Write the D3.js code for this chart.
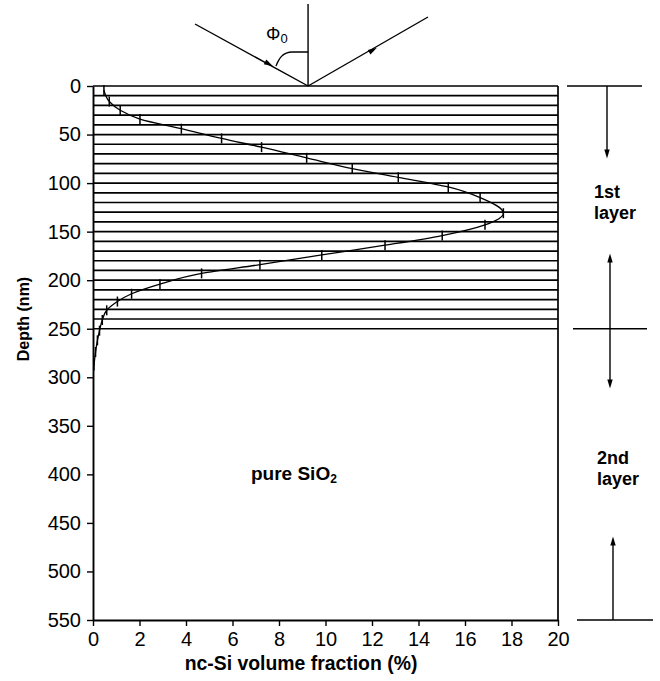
<!DOCTYPE html>
<html>
<head>
<meta charset="utf-8">
<script src="https://cdn.jsdelivr.net/npm/d3@7"></script>
<style>
  body { margin: 0; background: #fff; }
  text { font-family: Arial, "Liberation Sans", sans-serif; fill: #000; }
</style>
</head>
<body>
<svg id="chart" width="660" height="681"></svg>
<script>
// depth ticks (nm) and fraction ticks (%)
const depthTicks = [0, 50, 100, 150, 200, 250, 300, 350, 400, 450, 500, 550];
const fracTicks = [0, 2, 4, 6, 8, 10, 12, 14, 16, 18, 20];

// boundaries of the 10 nm sublayers of the 1st layer
const layerBounds = [0, 10, 20, 30, 40, 50, 60, 70, 80, 90, 100, 110, 120, 130,
    140, 150, 160, 170, 180, 190, 200, 210, 220, 230, 240, 250];

// nc-Si profile
const profileDepth = [4, 16, 25, 34, 44, 54, 63, 74, 85, 94, 104, 115, 131, 143,
    154, 164, 174, 184, 193, 204, 214, 222, 231, 241, 252, 262, 274, 288];
const profileFrac = [0.47, 0.7, 1.17, 2.02, 3.8, 5.53, 7.25, 9.19, 11.15, 13.13, 15.28, 16.65, 17.65, 16.86,
    15.02, 12.56, 9.84, 7.18, 4.67, 2.88, 1.66, 1.05, 0.59, 0.4, 0.28, 0.19, 0.11, 0.04];

const layerNames = [["1st", "layer"], ["2nd", "layer"]];

const svg = d3.select("#chart");
const x = d3.scaleLinear().domain([0, 20]).range([93, 558]);
const y = d3.scaleLinear().domain([0, 550]).range([86, 620]);

// sublayer lines
svg.append("g")
    .attr("class", "layers")
    .selectAll("line")
    .data(layerBounds)
    .join("line")
    .attr("x1", x(0))
    .attr("x2", x(20))
    .attr("y1", d => y(d))
    .attr("y2", d => y(d))
    .attr("stroke", "#000")
    .attr("stroke-width", 1.7);

// right frame line
svg.append("line")
    .attr("x1", x(20)).attr("x2", x(20))
    .attr("y1", y(0)).attr("y2", y(550))
    .attr("stroke", "#000")
    .attr("stroke-width", 1.7);

// axes
const yAxis = svg.append("g")
    .attr("transform", `translate(${x(0)},0)`)
    .call(d3.axisLeft(y).tickValues(depthTicks).tickSize(6).tickPadding(6).tickSizeOuter(0));
const xAxis = svg.append("g")
    .attr("transform", `translate(0,${y(550)})`)
    .call(d3.axisBottom(x).tickValues(fracTicks).tickSize(6).tickPadding(6).tickSizeOuter(0));

[yAxis, xAxis].forEach(a => {
    a.select(".domain").attr("stroke-width", 1.9);
    a.selectAll(".tick line").attr("stroke-width", 1.4);
    a.selectAll("text")
        .attr("font-family", "Arial, 'Liberation Sans', sans-serif")
        .attr("font-size", 20)
        .attr("fill", "#000");
});

// profile curve
const pts = profileDepth.map((d, i) => ({d: d, v: profileFrac[i]}));
const line = d3.line()
    .x(d => x(d.v))
    .y(d => y(d.d))
    .curve(d3.curveMonotoneY);

svg.append("path")
    .datum(pts)
    .attr("d", line)
    .attr("fill", "none")
    .attr("stroke", "#000")
    .attr("stroke-width", 1.3);

svg.append("g")
    .attr("class", "marks")
    .selectAll("line")
    .data(pts)
    .join("line")
    .attr("x1", d => x(d.v))
    .attr("x2", d => x(d.v))
    .attr("y1", d => y(d.d) - 5)
    .attr("y2", d => y(d.d) + 5)
    .attr("stroke", "#000")
    .attr("stroke-width", 1.5);

// small filled triangle pointing along a direction
function arrowHead(g, px, py, angle, size) {
    g.append("path")
        .attr("d", `M${size},0 L${-size},${-size * 0.6} L${-size},${size * 0.6} Z`)
        .attr("transform", `translate(${px},${py}) rotate(${angle})`)
        .attr("fill", "#000");
}

// incidence sketch
const hit = [x(9.25), y(0)];
const diag = svg.append("g").attr("class", "sketch");
diag.append("line")
    .attr("x1", hit[0]).attr("x2", hit[0])
    .attr("y1", 4).attr("y2", hit[1])
    .attr("stroke", "#000").attr("stroke-width", 1.4);
diag.append("line")
    .attr("x1", 195).attr("y1", 24).attr("x2", hit[0]).attr("y2", hit[1])
    .attr("stroke", "#000").attr("stroke-width", 1.4);
diag.append("line")
    .attr("x1", hit[0]).attr("y1", hit[1]).attr("x2", 428).attr("y2", 17)
    .attr("stroke", "#000").attr("stroke-width", 1.4);
const aIn = Math.atan2(hit[1] - 24, hit[0] - 195) * 180 / Math.PI;
const aOut = Math.atan2(17 - hit[1], 428 - hit[0]) * 180 / Math.PI;
arrowHead(diag, 269, 64, aIn, 4.5);
arrowHead(diag, 373, 50, aOut, 4.5);
diag.append("path")
    .attr("d", `M276,66 C279,58 283,52 292,52 L${hit[0]},52`)
    .attr("fill", "none")
    .attr("stroke", "#000").attr("stroke-width", 1.4);
const phi = diag.append("text")
    .attr("x", 266).attr("y", 40)
    .attr("font-size", 18);
phi.append("tspan").text("\u03A6");
phi.append("tspan").attr("font-size", 13).attr("dy", 3).text("0");

// layer annotations on the right
const ann = svg.append("g").attr("class", "annot");
function hline(x1, x2, yy) {
    ann.append("line").attr("x1", x1).attr("x2", x2).attr("y1", yy).attr("y2", yy)
        .attr("stroke", "#000").attr("stroke-width", 1.7);
}
function vline(xx, y1, y2) {
    ann.append("line").attr("x1", xx).attr("x2", xx).attr("y1", y1).attr("y2", y2)
        .attr("stroke", "#000").attr("stroke-width", 1.4);
}
hline(567, 642, y(0));
hline(573, 647, y(250));
hline(577, 653, y(550));

vline(607, y(0), 153);
arrowHead(ann, 607, 154, 90, 4.5);
vline(610, y(250), 262);
arrowHead(ann, 610, 258, -90, 4.5);
vline(610, y(250), 380);
arrowHead(ann, 610, 384, 90, 4.5);
vline(613, y(550), 545);
arrowHead(ann, 613, 541, -90, 4.5);

const labelPos = [[594, 198, 21], [597, 464, 21]];
layerNames.forEach((lines, i) => {
    const t = ann.append("text")
        .attr("x", labelPos[i][0])
        .attr("y", labelPos[i][1])
        .attr("font-size", 18)
        .attr("font-weight", "bold");
    lines.forEach((s, j) => {
        t.append("tspan").attr("x", labelPos[i][0]).attr("dy", j ? labelPos[i][2] : 0).text(s);
    });
});

// pure SiO2 label
const sio = svg.append("text")
    .attr("x", 251).attr("y", 480)
    .attr("font-size", 19)
    .attr("font-weight", "bold");
sio.append("tspan").text("pure SiO");
sio.append("tspan").attr("font-size", 12).attr("dy", 3).text("2");

// axis titles
svg.append("text")
    .attr("x", 301)
    .attr("y", 670)
    .attr("text-anchor", "middle")
    .attr("font-size", 19.4)
    .attr("font-weight", "bold")
    .text("nc-Si volume fraction (%)");

svg.append("text")
    .attr("transform", `translate(29,${y(240)}) rotate(-90)`)
    .attr("text-anchor", "middle")
    .attr("font-size", 16)
    .attr("font-weight", "bold")
    .text("Depth (nm)");
</script>
</body>
</html>
